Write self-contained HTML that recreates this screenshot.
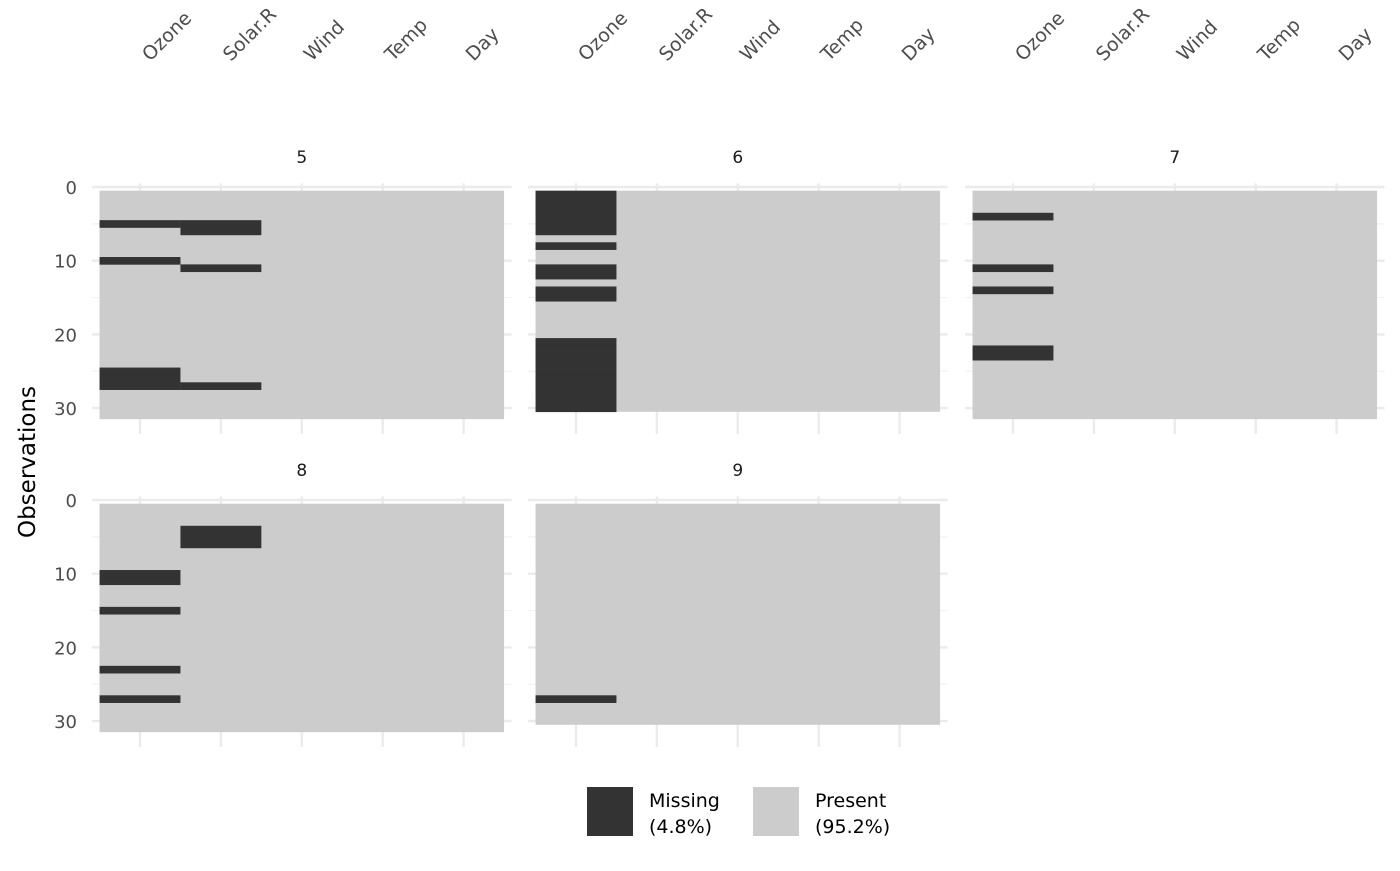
<!DOCTYPE html>
<html><head><meta charset="utf-8"><style>
body{margin:0;background:#fff;}
svg text{font-family:"DejaVu Sans","Liberation Sans",sans-serif;}
</style></head><body>
<svg id="chart" width="1400" height="866" xmlns="http://www.w3.org/2000/svg"></svg>
<script>
const variables = ["Ozone","Solar.R","Wind","Temp","Day"];
const months = ["5","6","7","8","9"];
const monthRows = [31,30,31,31,30];
const missingOzone = [[5,10,25,26,27],[1,2,3,4,5,6,8,11,12,14,15,21,22,23,24,25,26,27,28,29,30],[4,11,14,22,23],[10,11,15,23,27],[27]];
const missingSolar = [[5,6,11,27],[],[],[4,5,6],[]];
const yTicks = [0,10,20,30];
const legendLabels = ["Missing","(4.8%)","Present","(95.2%)"];

const svg = document.getElementById('chart');
const NS = "http://www.w3.org/2000/svg";
function mk(tag, attrs, parent){const e=document.createElementNS(NS,tag);for(const k in attrs)e.setAttribute(k,attrs[k]);(parent||svg).appendChild(e);return e;}
const panelX0 = [140,576,1013];
const panelY0 = [187,500];
const colW = 80.9, rowH = 7.37;
function xPos(p,c){return panelX0[p%3]+c*colW;}
function yPos(p,v){return panelY0[Math.floor(p/3)]+v*rowH;}

for(let p=0;p<3;p++){
  variables.forEach((v,c)=>{
    const x=xPos(p,c)+10, y=62;
    const t=mk('text',{x:x,y:y,'font-size':19,fill:'#4d4d4d',transform:`rotate(-45 ${x} ${y})`});
    
    
    t.textContent=v;
  });
}

months.forEach((m,p)=>{
  const g=mk('g',{});
  
  
  const left=xPos(p,0)-48, right=xPos(p,4)+48;
  [5,15,25].forEach(v=>mk('line',{x1:left,x2:right,y1:yPos(p,v),y2:yPos(p,v),stroke:'#f2f2f2','stroke-width':1.2},g));
  yTicks.forEach(v=>mk('line',{x1:left,x2:right,y1:yPos(p,v),y2:yPos(p,v),stroke:'#ebebeb','stroke-width':2.4},g));
  variables.forEach((v,c)=>mk('line',{x1:xPos(p,c),x2:xPos(p,c),y1:yPos(p,-0.5),y2:yPos(p,33.5),stroke:'#ebebeb','stroke-width':2.4},g));
  const n=monthRows[p];
  const bg=mk('rect',{x:xPos(p,0)-colW/2,y:yPos(p,0.5),width:colW*5,height:n*rowH,fill:'#cccccc'},g);
  
  
  [missingOzone[p],missingSolar[p]].forEach((arr,c)=>arr.forEach(d=>{
    const r=mk('rect',{x:xPos(p,c)-colW/2,y:yPos(p,d-0.5),width:colW,height:rowH+0.3,fill:'#333333'},g);
    
    
  }));
  const s=mk('text',{x:(xPos(p,0)+xPos(p,4))/2,y:panelY0[Math.floor(p/3)]-24,'font-size':17,fill:'#1a1a1a','text-anchor':'middle'},g);
  
  
  s.textContent=m;
  if(p%3===0){
    yTicks.forEach(v=>{
      const t=mk('text',{x:77,y:yPos(p,v)+7,'font-size':18,fill:'#4d4d4d','text-anchor':'end'},g);
      
      
      t.textContent=v;
    });
  }
});

const yt=mk('text',{x:35,y:462,'font-size':23,fill:'#000','text-anchor':'middle',transform:'rotate(-90 35 462)'});


yt.textContent='Observations';

const lg=mk('g',{});


mk('rect',{x:587,y:787,width:46,height:49,fill:'#333333'},lg);
mk('rect',{x:753,y:787,width:46,height:49,fill:'#cccccc'},lg);
[[649,807,0],[649,833,1],[815,807,2],[815,833,3]].forEach(([x,y,i])=>{
  const t=mk('text',{x:x,y:y,'font-size':19,fill:'#000'},lg);
  
  
  t.textContent=legendLabels[i];
});
</script>
</body></html>
